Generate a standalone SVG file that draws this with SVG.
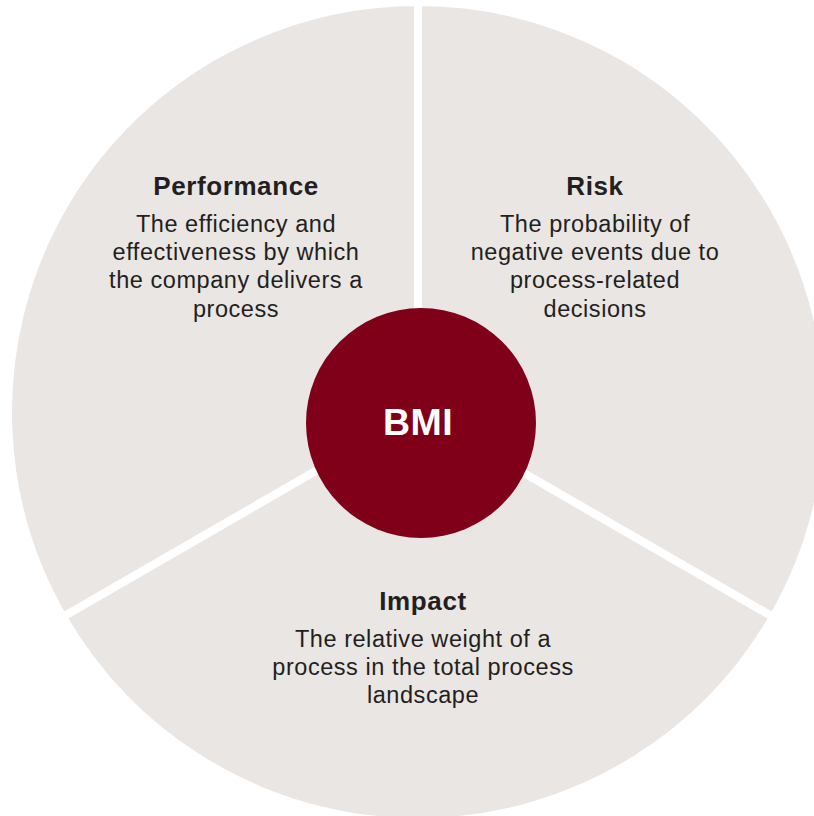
<svg xmlns="http://www.w3.org/2000/svg" width="814" height="816" viewBox="0 0 814 816">
  <style>
    .seg { fill: #EAE6E3; stroke: #FFFFFF; stroke-width: 8; stroke-linejoin: miter; }
    .title { font-family: "Liberation Sans", Arial, sans-serif; font-weight: bold; font-size: 26px; fill: #231F20; text-anchor: middle; letter-spacing: 0.6px; }
    .body { font-family: "Liberation Sans", Arial, sans-serif; font-size: 23.5px; fill: #231F20; text-anchor: middle; letter-spacing: 0.55px; }
    .hub { fill: #80001A; }
    .hub-label { font-family: "Liberation Sans", Arial, sans-serif; font-weight: bold; font-size: 37.5px; fill: #FFFFFF; text-anchor: middle; letter-spacing: 0.5px; }
  </style>
  <rect width="814" height="816" fill="#FFFFFF"/>

  <!-- three 120° sectors around (418,412); the white stroke forms the gaps -->
  <g id="performance">
    <path class="seg" d="M418 412 L418 2 A410 410 0 0 0 62.93 617 Z"/>
    <text class="title" x="236" y="195">Performance</text>
    <text class="body" x="236" y="232">The efficiency and</text>
    <text class="body" x="236" y="260">effectiveness by which</text>
    <text class="body" x="236" y="288">the company delivers a</text>
    <text class="body" x="236" y="316.5">process</text>
  </g>

  <g id="risk">
    <path class="seg" d="M418 412 L418 2 A410 410 0 0 1 773.07 617 Z"/>
    <text class="title" x="595" y="195">Risk</text>
    <text class="body" x="595" y="232">The probability of</text>
    <text class="body" x="595" y="260">negative events due to</text>
    <text class="body" x="595" y="288">process-related</text>
    <text class="body" x="595" y="316.5">decisions</text>
  </g>

  <g id="impact">
    <path class="seg" d="M418 412 L773.07 617 A410 410 0 0 1 62.93 617 Z"/>
    <text class="title" x="423" y="610">Impact</text>
    <text class="body" x="423" y="647">The relative weight of a</text>
    <text class="body" x="423" y="675">process in the total process</text>
    <text class="body" x="423" y="703">landscape</text>
  </g>

  <g id="bmi">
    <circle class="hub" cx="421" cy="423" r="115"/>
    <text class="hub-label" x="418" y="435">BMI</text>
  </g>
</svg>
